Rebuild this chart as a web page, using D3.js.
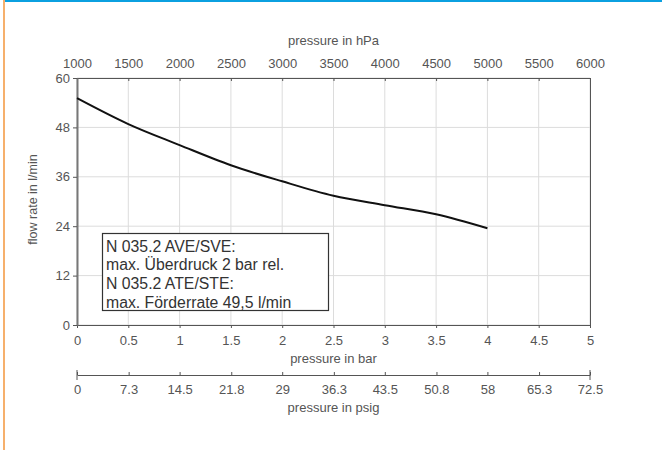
<!DOCTYPE html>
<html>
<head>
<meta charset="utf-8">
<script src="https://cdn.jsdelivr.net/npm/d3@7/dist/d3.min.js"></script>
<style>
  body { margin: 0; background: #fff; }
  svg text { font-family: "Liberation Sans", Arial, sans-serif; fill: #555; }
</style>
</head>
<body>
<div id="chart"></div>
<script>
// Data
const pressureBar = [0, 0.5, 1, 1.5, 2, 2.5, 3, 3.5, 4]
const flowRate = [55.1, 48.8, 43.7, 38.8, 34.9, 31.4, 29.1, 26.9, 23.5]
const barTicks = [0, 0.5, 1, 1.5, 2, 2.5, 3, 3.5, 4, 4.5, 5]
const hPaTicks = [1000, 1500, 2000, 2500, 3000, 3500, 4000, 4500, 5000, 5500, 6000]
const psigTicks = [0, 7.3, 14.5, 21.8, 29, 36.3, 43.5, 50.8, 58, 65.3, 72.5]
const flowTicks = [0, 12, 24, 36, 48, 60]
const legendLines = [
  'N 035.2 AVE/SVE:',
  'max. Überdruck 2 bar rel.',
  'N 035.2 ATE/STE:',
  'max. Förderrate 49,5 l/min'
]

;(({ width, height, plot: { left, right, top, bottom }, psigY }) => {
  const svg = d3.select('#chart')
    .append('svg')
    .attr('width', width)
    .attr('height', height)

  // page borders
  svg.append('rect').attr('x', 3).attr('y', 0).attr('width', width).attr('height', 2).attr('fill', '#0ba0e0')
  svg.append('rect').attr('x', 3).attr('y', 0).attr('width', 2).attr('height', height).attr('fill', '#f6b06c')

  // scales
  const x = d3.scaleLinear().domain([0, 5]).range([left, right])
  const xHpa = d3.scaleLinear().domain([1000, 6000]).range([left, right])
  const xPsig = d3.scaleLinear().domain([0, 72.5]).range([left, right])
  const y = d3.scaleLinear().domain([0, 60]).range([bottom, top])

  // grid
  svg.append('g')
    .selectAll('line.v')
    .data(barTicks)
    .join('line')
    .attr('x1', d => x(d)).attr('x2', d => x(d))
    .attr('y1', top).attr('y2', bottom)
    .attr('stroke', '#dcdcdc')
  svg.append('g')
    .selectAll('line.h')
    .data(flowTicks)
    .join('line')
    .attr('x1', left).attr('x2', right)
    .attr('y1', d => y(d)).attr('y2', d => y(d))
    .attr('stroke', '#dcdcdc')

  const styleAxis = g => {
    g.selectAll('path.domain').attr('stroke', '#555')
    g.selectAll('.tick line').attr('stroke', '#555')
    g.selectAll('.tick text').attr('fill', '#555').style('font-size', '13px')
      .style('font-family', '"Liberation Sans", Arial, sans-serif')
  }

  // axes
  svg.append('g')
    .attr('transform', `translate(0,${bottom})`)
    .call(d3.axisBottom(x).tickValues(barTicks).tickSize(3).tickSizeOuter(0).tickPadding(8).tickFormat(d3.format('')))
    .call(styleAxis)
  svg.append('g')
    .attr('transform', `translate(0,${top})`)
    .call(d3.axisTop(xHpa).tickValues(hPaTicks).tickSize(-3).tickSizeOuter(0).tickPadding(10).tickFormat(d3.format('')))
    .call(styleAxis)
  svg.append('g')
    .attr('transform', `translate(${left},0)`)
    .call(d3.axisLeft(y).tickValues(flowTicks).tickSize(4).tickSizeOuter(0).tickPadding(3))
    .call(styleAxis)
    .call(g => g.select('path.domain').attr('stroke', '#777').attr('stroke-width', 2))
  svg.append('g')
    .attr('transform', `translate(${right},0)`)
    .call(d3.axisRight(y).tickValues([]).tickSizeOuter(0))
    .call(styleAxis)

  // psig axis
  svg.append('g')
    .attr('transform', `translate(0,${psigY})`)
    .call(d3.axisBottom(xPsig).tickValues(psigTicks).tickSize(-3).tickSizeOuter(0).tickPadding(10).tickFormat(d3.format('')))
    .call(styleAxis)
  svg.append('g')
    .selectAll('line')
    .data([0, 72.5])
    .join('line')
    .attr('x1', d => xPsig(d)).attr('x2', d => xPsig(d))
    .attr('y1', psigY - 5).attr('y2', psigY + 5)
    .attr('stroke', '#555')

  // axis titles
  const mid = (left + right) / 2
  svg.append('text').attr('x', mid).attr('y', 45).attr('text-anchor', 'middle').style('font-size', '13px').text('pressure in hPa')
  svg.append('text').attr('x', mid).attr('y', 363).attr('text-anchor', 'middle').style('font-size', '13px').text('pressure in bar')
  svg.append('text').attr('x', mid).attr('y', 412).attr('text-anchor', 'middle').style('font-size', '13px').text('pressure in psig')
  svg.append('text')
    .attr('transform', `translate(37,${(top + bottom) / 2 - 2}) rotate(-90)`)
    .attr('text-anchor', 'middle')
    .style('font-size', '12.5px')
    .text('flow rate in l/min')

  // curve
  const line = d3.line()
    .x((d, i) => x(pressureBar[i]))
    .y(d => y(d))
    .curve(d3.curveMonotoneX)
  svg.append('path')
    .datum(flowRate)
    .attr('d', line)
    .attr('fill', 'none')
    .attr('stroke', '#111')
    .attr('stroke-width', 2)

  // legend box
  const legend = svg.append('g')
  legend.append('rect')
    .attr('x', 102.5).attr('y', 233.5)
    .attr('width', 226).attr('height', 77)
    .attr('fill', '#fff')
    .attr('stroke', '#333')
    .attr('stroke-width', 1.2)
  legend.selectAll('text')
    .data(legendLines)
    .join('text')
    .attr('x', 106)
    .attr('y', (d, i) => 251.5 + i * 18.9)
    .style('font-size', '15.8px')
    .style('fill', '#333')
    .text(d => d)
})({
  width: 662,
  height: 450,
  plot: { left: 77, right: 590, top: 78, bottom: 325 },
  psigY: 375
})
</script>
</body>
</html>
